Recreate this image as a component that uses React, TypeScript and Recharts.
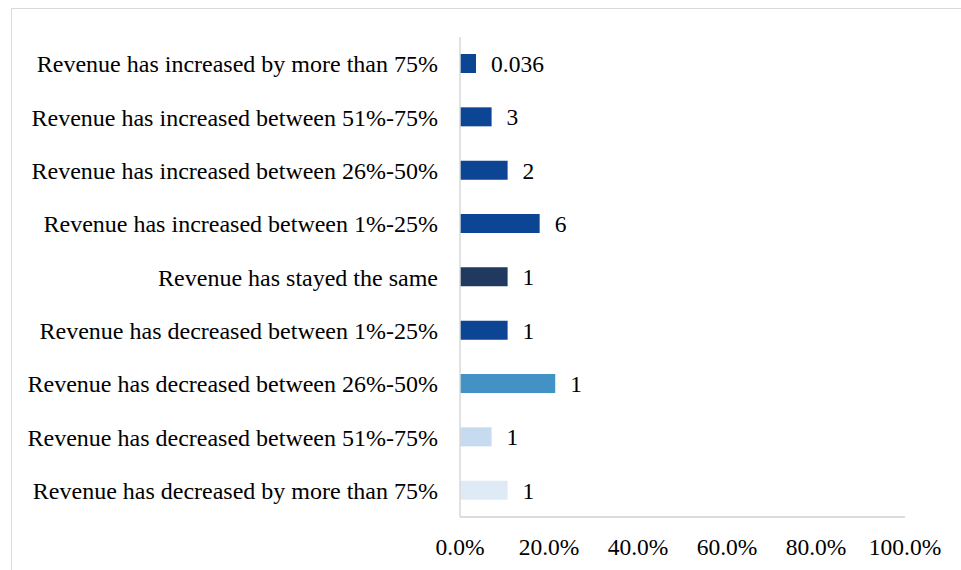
import React from 'react';
import { BarChart, Bar, XAxis, YAxis, Cell, LabelList } from 'recharts';

const categories = [
  'Revenue has increased by more than 75%',
  'Revenue has increased between 51%-75%',
  'Revenue has increased between 26%-50%',
  'Revenue has increased between 1%-25%',
  'Revenue has stayed the same',
  'Revenue has decreased between 1%-25%',
  'Revenue has decreased between 26%-50%',
  'Revenue has decreased between 51%-75%',
  'Revenue has decreased by more than 75%',
];
const shares = [0.036, 0.071, 0.107, 0.179, 0.107, 0.107, 0.214, 0.071, 0.107];
const labels = ['0.036', '3', '2', '6', '1', '1', '1', '1', '1'];
const colors = ['#0B4594', '#0B4594', '#0B4594', '#0B4594', '#21385F', '#0B4594', '#4292C6', '#C6DBEF', '#DEEBF7'];
const xTicks = [0, 0.2, 0.4, 0.6, 0.8, 1];

const data = categories.map((c, i) => ({ name: c, value: shares[i], label: labels[i] }));

const FONT = '"Liberation Serif", "Times New Roman", serif';

export default function App() {
  return (
    <div style={{ position: 'absolute', left: 0, top: 0, width: 961, height: 570, background: '#fff', overflow: 'hidden' }}>
      <div style={{ position: 'absolute', left: 11, top: 8, width: 1000, height: 600, border: '1.5px solid #D9D9D9', boxSizing: 'border-box' }} />
      <div style={{ position: 'absolute', left: 0, top: 0 }}>
        <BarChart
          width={961}
          height={570}
          data={data}
          layout="vertical"
          margin={{ top: 37, right: 56, bottom: 0, left: 0 }}
        >
          <XAxis
            type="number"
            domain={[0, 1]}
            ticks={xTicks}
            tickFormatter={(v: number) => (v * 100).toFixed(1) + '%'}
            axisLine={{ stroke: '#D0D0D0', strokeWidth: 1.5 }}
            tickLine={false}
            tickSize={0}
            tickMargin={21}
            height={53}
            interval={0}
            tick={{ fill: '#000', fontSize: 23.5, fontFamily: FONT }}
          />
          <YAxis
            type="category"
            dataKey="name"
            width={460}
            axisLine={{ stroke: '#D9D9D9', strokeWidth: 1.5 }}
            tickLine={false}
            tickSize={0}
            tickMargin={22}
            interval={0}
            tick={{ fill: '#000', fontSize: 24, fontFamily: FONT }}
          />
          <Bar dataKey="value" barSize={19} isAnimationActive={false}>
            {data.map((d, i) => (
              <Cell key={i} fill={colors[i]} />
            ))}
            <LabelList
              dataKey="label"
              position="right"
              offset={15}
              style={{ fill: '#000', fontSize: 23.5, fontFamily: FONT }}
            />
          </Bar>
        </BarChart>
      </div>
    </div>
  );
}
